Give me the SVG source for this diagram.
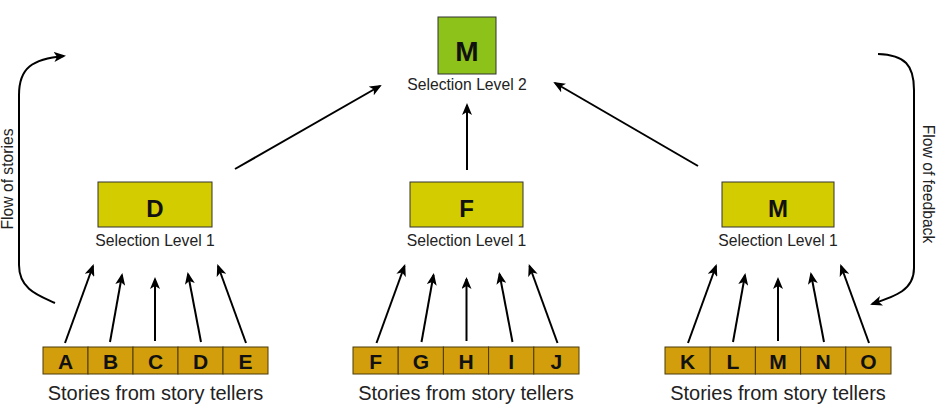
<svg xmlns="http://www.w3.org/2000/svg" width="939" height="410" viewBox="0 0 939 410">
<style>
.lbl{font-family:"Liberation Sans",Arial,sans-serif;fill:#222;}
.sel{font-size:15.7px;text-anchor:middle;}
.story{font-size:20px;text-anchor:middle;}
.let{font-family:"Liberation Sans",Arial,sans-serif;font-weight:bold;fill:#111;text-anchor:middle;}
.cell{fill:#d29e0c;stroke:#4a3a08;stroke-width:1;}
.l1{fill:#d2cc00;stroke:#333;stroke-width:1;}
.l2{fill:#8cc21a;stroke:#333;stroke-width:1;}
.con{stroke:#000;stroke-width:2;fill:none;marker-end:url(#ah);}
</style>
<defs>
<marker id="ah" viewBox="0 0 12 10" refX="10" refY="5" markerWidth="12" markerHeight="10" markerUnits="userSpaceOnUse" orient="auto">
<path d="M0,0 L12,5 L0,10 L3,5 z" fill="#000"/>
</marker>
<g id="tpl-arrows">
<line x1="65" y1="343" x2="93" y2="266"/>
<line x1="110" y1="342" x2="122" y2="275"/>
<line x1="155" y1="341" x2="155" y2="279"/>
<line x1="201" y1="342" x2="188" y2="274"/>
<line x1="246" y1="343" x2="218" y2="266"/>
</g>
</defs>
<rect width="939" height="410" fill="#fff"/>

<g id="node-top">
<rect class="l2" x="438" y="17" width="58" height="57"/>
<text class="let" x="467" y="61" font-size="28">M</text>
<text class="lbl sel" x="467" y="90">Selection Level 2</text>
</g>

<g id="node-D">
<rect class="l1" x="98" y="182" width="114" height="45"/>
<text class="let" x="155" y="217" font-size="24">D</text>
<text class="lbl sel" x="155" y="246">Selection Level 1</text>
</g>
<g id="node-F">
<rect class="l1" x="410" y="182" width="113" height="45"/>
<text class="let" x="466.5" y="217" font-size="24">F</text>
<text class="lbl sel" x="466.5" y="246">Selection Level 1</text>
</g>
<g id="node-M1">
<rect class="l1" x="722" y="182" width="112" height="45"/>
<text class="let" x="778" y="217" font-size="24">M</text>
<text class="lbl sel" x="778" y="246">Selection Level 1</text>
</g>

<g id="stories-1">
<rect class="cell" x="43" y="347" width="45" height="27"/>
<rect class="cell" x="88" y="347" width="45" height="27"/>
<rect class="cell" x="133" y="347" width="45" height="27"/>
<rect class="cell" x="178" y="347" width="45" height="27"/>
<rect class="cell" x="223" y="347" width="45" height="27"/>
<text class="let" font-size="21" y="369"><tspan x="65.5">A</tspan><tspan x="110.5">B</tspan><tspan x="155.5">C</tspan><tspan x="200.5">D</tspan><tspan x="245.5">E</tspan></text>
<text class="lbl story" x="155.5" y="400">Stories from story tellers</text>
</g>
<g id="stories-2">
<rect class="cell" x="353" y="347" width="45.2" height="27"/>
<rect class="cell" x="398.2" y="347" width="45.2" height="27"/>
<rect class="cell" x="443.4" y="347" width="45.2" height="27"/>
<rect class="cell" x="488.6" y="347" width="45.2" height="27"/>
<rect class="cell" x="533.8" y="347" width="45.2" height="27"/>
<text class="let" font-size="21" y="369"><tspan x="375.6">F</tspan><tspan x="420.8">G</tspan><tspan x="466">H</tspan><tspan x="511.2">I</tspan><tspan x="556.4">J</tspan></text>
<text class="lbl story" x="466" y="400">Stories from story tellers</text>
</g>
<g id="stories-3">
<rect class="cell" x="665" y="347" width="45.2" height="27"/>
<rect class="cell" x="710.2" y="347" width="45.2" height="27"/>
<rect class="cell" x="755.4" y="347" width="45.2" height="27"/>
<rect class="cell" x="800.6" y="347" width="45.2" height="27"/>
<rect class="cell" x="845.8" y="347" width="45.2" height="27"/>
<text class="let" font-size="21" y="369"><tspan x="687.6">K</tspan><tspan x="732.8">L</tspan><tspan x="778">M</tspan><tspan x="823.2">N</tspan><tspan x="868.4">O</tspan></text>
<text class="lbl story" x="778" y="400">Stories from story tellers</text>
</g>

<g id="connectors" class="con">
<use href="#tpl-arrows"/>
<use href="#tpl-arrows" transform="translate(311.5,0)"/>
<use href="#tpl-arrows" transform="translate(623,0)"/>
<line x1="235" y1="169" x2="380" y2="86"/>
<line x1="467" y1="170" x2="467" y2="105"/>
<line x1="698" y1="166" x2="555" y2="83"/>
<path d="M55,303 C40,296 19,290 19,265 L19,95 C19,68 32,59 64,56"/>
<path d="M878,54 C905,55 914,65 914,90 L914,268 C914,290 896,296 872,304"/>
</g>

<g id="side-labels">
<text class="lbl sel" transform="translate(12.5,179) rotate(-90)">Flow of stories</text>
<text class="lbl sel" transform="translate(922.5,184) rotate(90)">Flow of feedback</text>
</g>
</svg>
